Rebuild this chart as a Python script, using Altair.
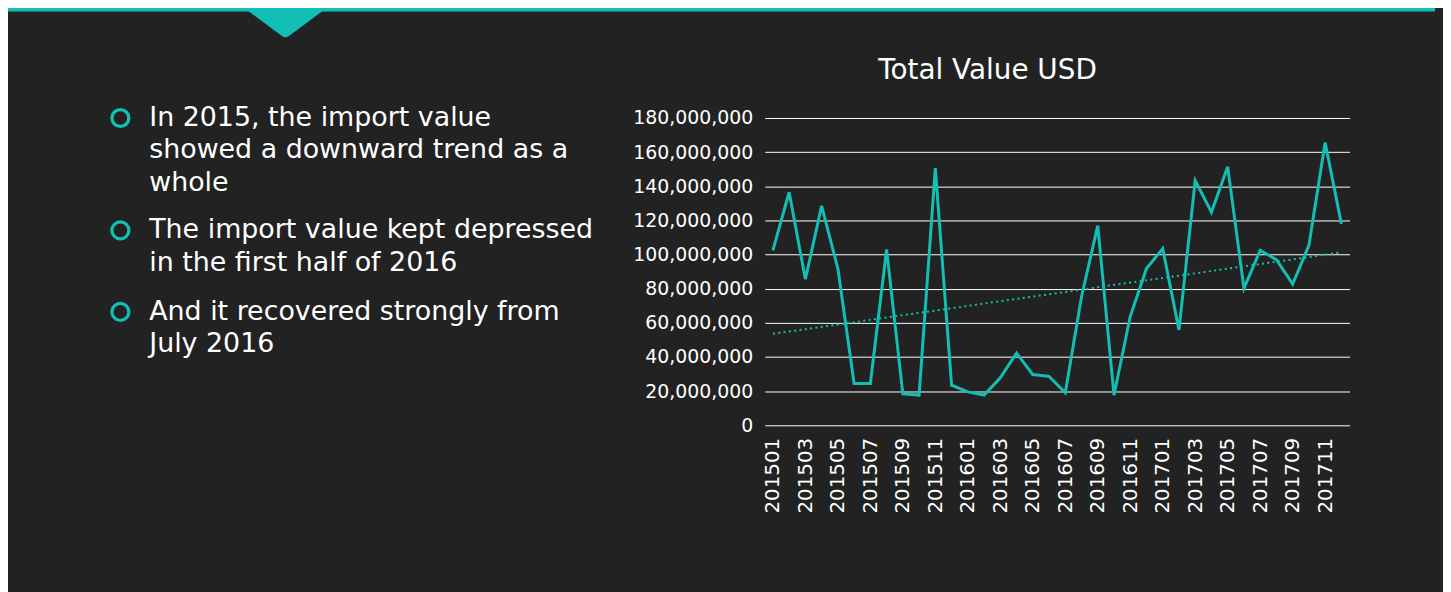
import altair as alt
import pandas as pd

# ---------------- data ----------------
months = [
    "201501", "201502", "201503", "201504", "201505", "201506",
    "201507", "201508", "201509", "201510", "201511", "201512",
    "201601", "201602", "201603", "201604", "201605", "201606",
    "201607", "201608", "201609", "201610", "201611", "201612",
    "201701", "201702", "201703", "201704", "201705", "201706",
    "201707", "201708", "201709", "201710", "201711", "201712",
]
values = [
    102500000, 136500000, 85600000, 128500000, 91800000, 24500000,
    24500000, 103000000, 18400000, 17700000, 150600000, 23500000,
    19600000, 17700000, 27800000, 42300000, 29700000, 28700000,
    19000000, 75300000, 117000000, 17700000, 63700000, 91800000,
    103500000, 55900000, 143300000, 124800000, 151400000, 80200000,
    102500000, 97000000, 82700000, 105400000, 165600000, 118000000,
]
y_ticks = [0, 20000000, 40000000, 60000000, 80000000, 100000000,
           120000000, 140000000, 160000000, 180000000]
x_tick_idx = list(range(0, len(months), 2))

title_text = "Total Value USD"
bullets = [
    ["In 2015, the import value", "showed a downward trend as a", "whole"],
    ["The import value kept depressed", "in the first half of 2016"],
    ["And it recovered strongly from", "July 2016"],
]

# ---------------- style ----------------
BG = "#222222"
TEAL = "#12BFB4"
FONT = "DejaVu Sans"
W, H = 588, 309
PAD = {"left": 761, "top": 109, "right": 94, "bottom": 166}

df = pd.DataFrame({"idx": list(range(len(months))), "month": months, "value": values})
one = pd.DataFrame({"k": [0]})

label_expr = "[" + ",".join("'" + m + "'" for m in months) + "][datum.value]"

x_enc = alt.X(
    "idx:Q",
    scale=alt.Scale(domain=[-0.5, len(months) - 0.5], nice=False, zero=False),
    axis=alt.Axis(
        values=x_tick_idx, labelExpr=label_expr, labelAngle=270,
        labelAlign="right", labelBaseline="middle", labelPadding=12,
        labelFontSize=20, labelColor="white", labelFont=FONT,
        labelOverlap=False, labelFlush=False,
        ticks=False, domain=False, grid=False, title=None,
    ),
)
y_enc = alt.Y(
    "value:Q",
    scale=alt.Scale(domain=[0, 180000000], nice=False),
    axis=alt.Axis(
        values=y_ticks, format=",d", labelFontSize=19, labelColor="white",
        labelFont=FONT, labelPadding=12, ticks=False, domain=False,
        labelOverlap=False, labelFlush=False,
        gridColor="white", gridWidth=1, gridOpacity=1, title=None,
    ),
)

base = alt.Chart(df)
line = base.mark_line(color=TEAL, strokeWidth=3).encode(x=x_enc, y=y_enc)
trend = base.transform_regression("idx", "value").mark_line(
    color=TEAL, strokeWidth=2, strokeDash=[2, 3.4]
).encode(x=x_enc, y=y_enc)

title = alt.Chart(one).mark_text(
    text=title_text, font=FONT, fontSize=28, color="white",
    align="center", baseline="middle",
).encode(x=alt.value(224), y=alt.value(-47))

layers = [line, trend, title]

bullet_y = [0, 113, 195]
for lines, by in zip(bullets, bullet_y):
    layers.append(
        alt.Chart(one).mark_point(
            shape="circle", filled=False, size=290, strokeWidth=3.3,
            color=TEAL, opacity=1,
        ).encode(x=alt.value(-648), y=alt.value(by))
    )
    layers.append(
        alt.Chart(one).mark_text(
            text=lines, font=FONT, fontSize=27, color="white",
            align="left", baseline="middle", lineHeight=32.5,
        ).encode(x=alt.value(-619), y=alt.value(by))
    )

# top decorative bar and chevron
layers.append(
    alt.Chart(one).mark_rule(color=TEAL, strokeWidth=4).encode(
        x=alt.value(-761), x2=alt.value(674), y=alt.value(-109)
    )
)
layers.append(
    alt.Chart(one).mark_point(
        shape="M -1 -0.36 L 1 -0.36 L 0.07 0.33 Q 0 0.38 -0.07 0.33 Z",
        filled=True, size=10000, color=TEAL, opacity=1, strokeWidth=0,
    ).encode(x=alt.value(-482), y=alt.value(-99))
)

chart = alt.layer(*layers).properties(
    width=W, height=H, padding=PAD,
    autosize=alt.AutoSizeParams(type="none"),
    background=BG,
).configure_view(stroke=None)

chart.save("out.html", embed_options={"renderer": "svg", "actions": False})
